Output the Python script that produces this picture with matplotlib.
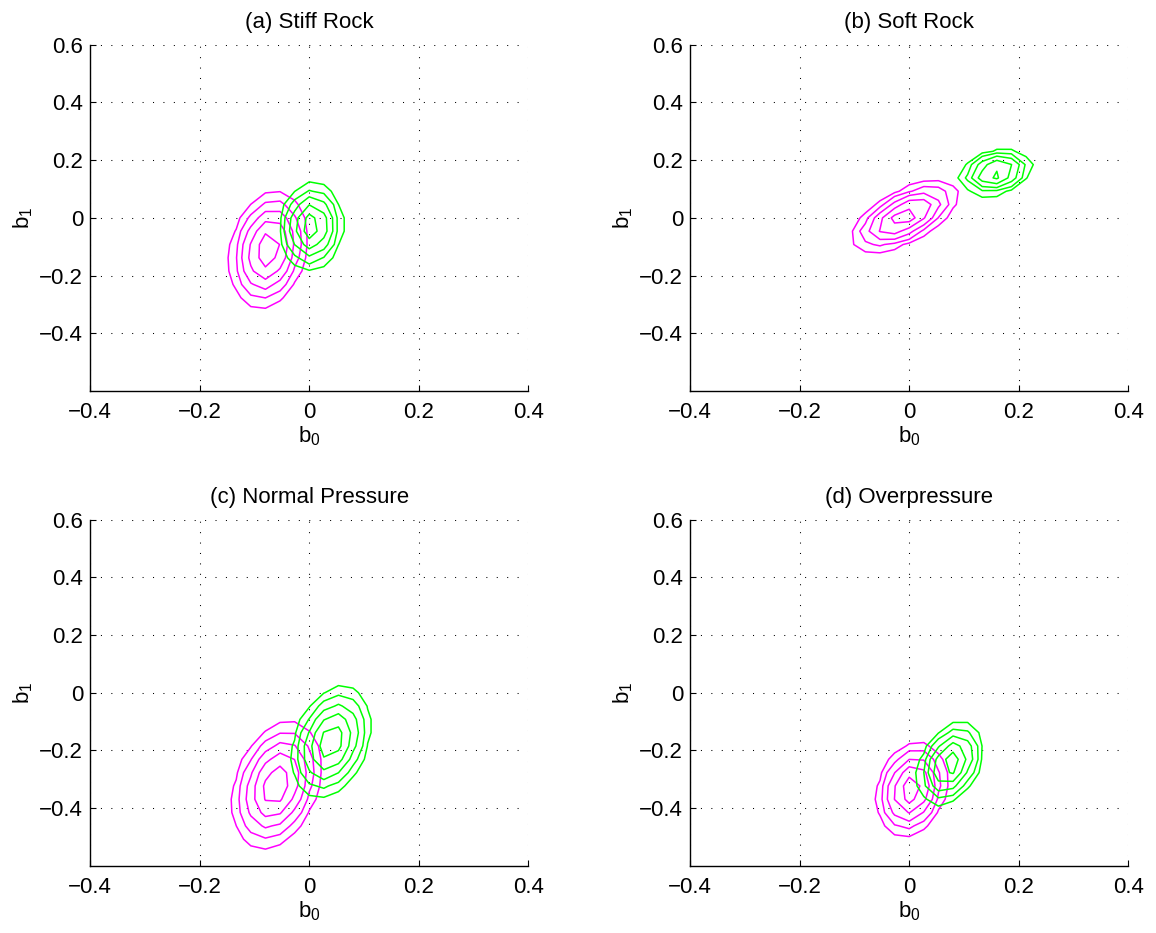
import numpy as np
import matplotlib.pyplot as plt

plt.rcParams['font.family'] = ['Liberation Sans', 'DejaVu Sans']
plt.rcParams['mathtext.default'] = 'regular'

# ── data ─────────────────────────────────────────────────────────────────────
titles = ['(a) Stiff Rock', '(b) Soft Rock', '(c) Normal Pressure', '(d) Overpressure']

# magenta class: centre, spread and correlation of each density
mag_b0_mean = [-0.075, -0.008, -0.060, 0.004]
mag_b1_mean = [-0.110, 0.005, -0.320, -0.335]
mag_b0_std  = [0.032, 0.045, 0.037, 0.029]
mag_b1_std  = [0.094, 0.056, 0.102, 0.075]
mag_rho     = [0.20, 0.62, 0.30, 0.20]

# green class
grn_b0_mean = [0.004, 0.158, 0.040, 0.075]
grn_b1_mean = [-0.030, 0.158, -0.170, -0.245]
grn_b0_std  = [0.026, 0.030, 0.033, 0.027]
grn_b1_std  = [0.070, 0.036, 0.089, 0.066]
grn_rho     = [0.05, 0.25, 0.30, 0.35]

# contour levels, fraction of peak density
levels = [0.1, 0.2, 0.35, 0.55, 0.8]

xticks = [-0.4, -0.2, 0, 0.2, 0.4]
yticks = [-0.4, -0.2, 0, 0.2, 0.4, 0.6]
tick_labels_x = ['\u22120.4', '\u22120.2', '0', '0.2', '0.4']
tick_labels_y = ['\u22120.4', '\u22120.2', '0', '0.2', '0.4', '0.6']

# coarse evaluation grid (gives the polygonal contours)
gx = np.linspace(-0.4, 0.4, 31)
gy = np.linspace(-0.6, 0.6, 27)
GX, GY = np.meshgrid(gx, gy)


def density(mx, my, sx, sy, rho):
    u = (GX - mx) / sx
    v = (GY - my) / sy
    q = (u * u - 2 * rho * u * v + v * v) / (1 - rho ** 2)
    return np.exp(-0.5 * q)


fig = plt.figure(figsize=(11.56, 9.33), dpi=100)
lefts = [0.078, 0.597]
bottoms = [0.581, 0.072]
W, H = 0.379, 0.371
fsize = 16

for i in range(4):
    ax = fig.add_axes([lefts[i % 2], bottoms[i // 2], W, H])
    zm = density(mag_b0_mean[i], mag_b1_mean[i], mag_b0_std[i], mag_b1_std[i], mag_rho[i])
    zg = density(grn_b0_mean[i], grn_b1_mean[i], grn_b0_std[i], grn_b1_std[i], grn_rho[i])
    ax.contour(GX, GY, zm, levels=levels, colors='#ff00ff', linewidths=1.1)
    ax.contour(GX, GY, zg, levels=levels, colors='#00ff00', linewidths=1.1)

    ax.set_xlim(-0.4, 0.4)
    ax.set_ylim(-0.6, 0.6)
    ax.set_xticks(xticks, labels=tick_labels_x)
    ax.set_yticks(yticks, labels=tick_labels_y)
    ax.tick_params(direction='in', length=4, width=0.8, labelsize=fsize)
    ax.tick_params(axis='x', pad=8)
    ax.tick_params(axis='y', pad=5)
    ax.grid(True, color='k', linewidth=0.75, linestyle=(0, (1, 9)))
    ax.set_axisbelow(True)
    for s in ('top', 'right'):
        ax.spines[s].set_visible(False)
    for s in ('left', 'bottom'):
        ax.spines[s].set_linewidth(1.0)

    ax.set_title(titles[i], fontsize=fsize, pad=12)
    ax.set_xlabel('b$_0$', fontsize=fsize, labelpad=1)
    ax.set_ylabel('b$_1$', fontsize=fsize, labelpad=3)

fig.savefig('out.png', dpi=100)
